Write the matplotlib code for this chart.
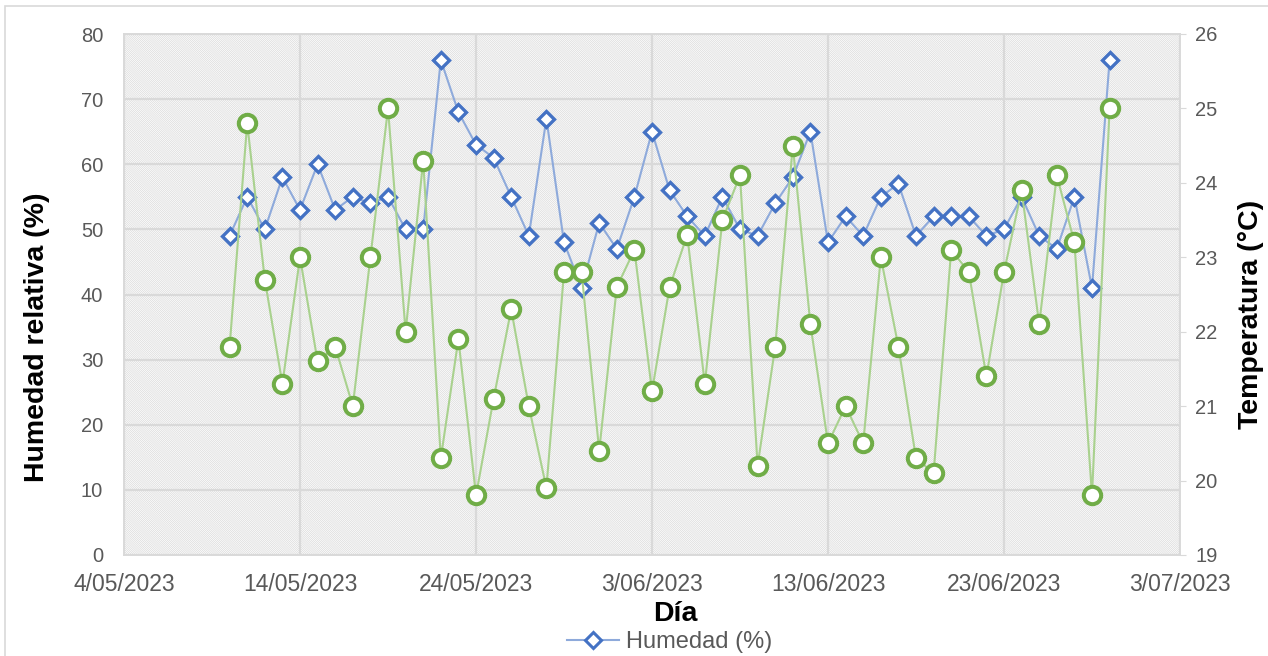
import datetime as dt
import matplotlib
matplotlib.use("Agg")
import matplotlib.pyplot as plt
import matplotlib.dates as mdates
import matplotlib.ticker as ticker
from matplotlib.lines import Line2D
from matplotlib.patches import Rectangle

# Daily records, 10/05/2023 .. 29/06/2023
start_day = dt.date(2023, 5, 10)
humedad = [49, 55, 50, 58, 53, 60, 53, 55, 54, 55, 50, 50, 76, 68, 63, 61, 55,
           49, 67, 48, 41, 51, 47, 55, 65, 56, 52, 49, 55, 50, 49, 54, 58, 65,
           48, 52, 49, 55, 57, 49, 52, 52, 52, 49, 50, 55, 49, 47, 55, 41, 76]
temperatura = [21.8, 24.8, 22.7, 21.3, 23.0, 21.6, 21.8, 21.0, 23.0, 25.0, 22.0,
               24.3, 20.3, 21.9, 19.8, 21.1, 22.3, 21.0, 19.9, 22.8, 22.8, 20.4,
               22.6, 23.1, 21.2, 22.6, 23.3, 21.3, 23.5, 24.1, 20.2, 21.8, 24.5,
               22.1, 20.5, 21.0, 20.5, 23.0, 21.8, 20.3, 20.1, 23.1, 22.8, 21.4,
               22.8, 23.9, 22.1, 24.1, 23.2, 19.8, 25.0]
dias = [start_day + dt.timedelta(days=i) for i in range(len(humedad))]

x_min, x_max = dt.date(2023, 5, 4), dt.date(2023, 7, 3)
x_ticks = [x_min + dt.timedelta(days=10 * i) for i in range(7)]

plt.rcParams['font.family'] = ['Liberation Sans', 'DejaVu Sans']
plt.rcParams['hatch.color'] = '#dadada'
plt.rcParams['hatch.linewidth'] = 0.5

grey_txt = '#595959'
grid_col = '#d9d9d9'
blue, blue_line = '#4472c4', '#8eaadb'
green, green_line = '#70ad47', '#a9d18e'

fig = plt.figure(figsize=(12.68, 6.56), dpi=100)
# light chart-area border
fig.add_artist(Rectangle((5 / 1268, -0.1), 1.2, 1 - 6 / 656 + 0.1,
                         transform=fig.transFigure, fill=False,
                         edgecolor=grid_col, linewidth=1.2))

ax = fig.add_axes([124 / 1268, 101 / 656, 1056 / 1268, 521 / 656])
ax.patch.set_facecolor('white')
ax.patch.set_hatch('\\' * 16)
ax.patch.set_edgecolor('#dadada')
ax.patch.set_linewidth(0)

ax.plot(dias, humedad, color=blue_line, linewidth=1.5, marker='D',
        markersize=8.5, markerfacecolor='white', markeredgecolor=blue,
        markeredgewidth=2.4, zorder=3)

ax.set_xlim(x_min, x_max)
ax.set_ylim(0, 80)
ax.yaxis.set_major_locator(ticker.MultipleLocator(10))
ax.set_xticks(x_ticks)
ax.xaxis.set_major_formatter(ticker.FuncFormatter(
    lambda v, p: (lambda d: f"{d.day}/{d.month:02d}/{d.year}")(mdates.num2date(v))))
ax.grid(True, color=grid_col, linewidth=1.6)
ax.set_axisbelow(True)
ax.tick_params(axis='both', length=0, labelcolor=grey_txt)
ax.tick_params(axis='y', pad=15, labelsize=14.5)
ax.tick_params(axis='x', pad=13, labelsize=16.5)
for s in ax.spines.values():
    s.set_color(grid_col)
    s.set_linewidth(1.2)

ax2 = ax.twinx()
ax2.plot(dias, temperatura, color=green_line, linewidth=1.5, marker='o',
         markersize=12.5, markerfacecolor='white', markeredgecolor=green,
         markeredgewidth=2.9, zorder=3)
ax2.set_ylim(19, 26)
ax2.yaxis.set_major_locator(ticker.MultipleLocator(1))
ax2.tick_params(axis='y', length=4, color=grid_col, labelsize=14.5,
                labelcolor=grey_txt, pad=7)
for s in ax2.spines.values():
    s.set_color(grid_col)
    s.set_linewidth(1.2)

fig.text(37 / 1268, 1 - 337 / 656, 'Humedad relativa (%)', rotation=90,
         ha='center', va='center', fontsize=20.5, fontweight='bold')
fig.text(1251 / 1268, 1 - 314 / 656, 'Temperatura (°C)', rotation=90,
         ha='center', va='center', fontsize=20.5, fontweight='bold')
fig.text(675 / 1268, 1 - 614 / 656, 'Día', ha='center', va='center',
         fontsize=20.5, fontweight='bold')

handle = Line2D([], [], color=blue_line, linewidth=1.5, marker='D',
                markersize=8, markerfacecolor='white', markeredgecolor=blue,
                markeredgewidth=2.2)
fig.legend([handle], ['Humedad (%)'], loc='center',
           bbox_to_anchor=(670 / 1268, 1 - 642 / 656), frameon=False,
           fontsize=17, labelcolor=grey_txt, handlelength=2.2,
           handletextpad=0.3, borderpad=0)

fig.savefig('out.png', dpi=100)
